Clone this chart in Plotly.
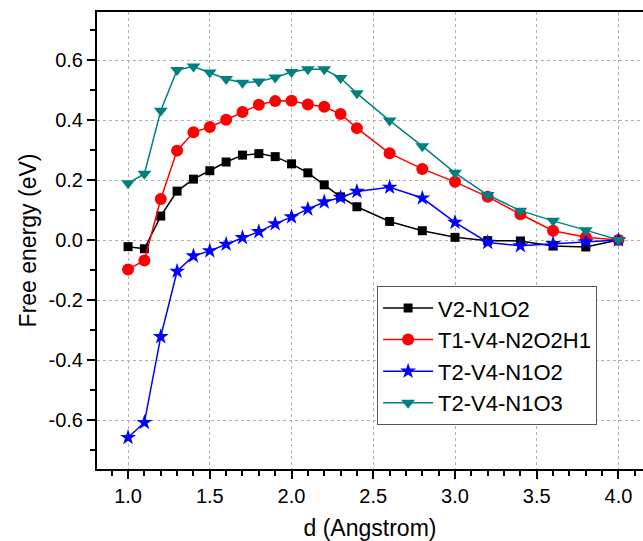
import plotly.graph_objects as go

d = [1.0, 1.1, 1.2, 1.3, 1.4, 1.5, 1.6, 1.7, 1.8, 1.9, 2.0, 2.1, 2.2, 2.3, 2.4, 2.6, 2.8, 3.0, 3.2, 3.4, 3.6, 3.8, 4.0]

v2_n1o2 = [-0.022, -0.029, 0.080, 0.163, 0.203, 0.231, 0.260, 0.283, 0.288, 0.278, 0.254, 0.224, 0.184, 0.144, 0.111,
           0.062, 0.031, 0.009, -0.002, -0.003, -0.020, -0.023, 0.0]
t1_v4_n2o2h1 = [-0.098, -0.068, 0.137, 0.298, 0.359, 0.377, 0.401, 0.427, 0.451, 0.463, 0.464, 0.452, 0.444, 0.420, 0.373,
                0.289, 0.237, 0.194, 0.144, 0.086, 0.031, 0.009, 0.0]
t2_v4_n1o2 = [-0.658, -0.608, -0.322, -0.104, -0.053, -0.036, -0.014, 0.008, 0.028, 0.054, 0.077, 0.103, 0.127, 0.142, 0.162,
              0.176, 0.140, 0.059, -0.008, -0.019, -0.012, -0.006, 0.0]
t2_v4_n1o3 = [0.189, 0.221, 0.431, 0.567, 0.578, 0.558, 0.537, 0.524, 0.528, 0.542, 0.560, 0.569, 0.569, 0.540, 0.489,
              0.398, 0.313, 0.224, 0.150, 0.098, 0.064, 0.033, 0.0]

x_tickvals = [1.0, 1.5, 2.0, 2.5, 3.0, 3.5, 4.0]
x_ticktext = ["1.0", "1.5", "2.0", "2.5", "3.0", "3.5", "4.0"]
y_tickvals = [-0.6, -0.4, -0.2, 0.0, 0.2, 0.4, 0.6]
y_ticktext = ["-0.6", "-0.4", "-0.2", "0.0", "0.2", "0.4", "0.6"]

series = [
    ("V2-N1O2", v2_n1o2, "black", "square", 9),
    ("T1-V4-N2O2H1", t1_v4_n2o2h1, "red", "circle", 12),
    ("T2-V4-N1O2", t2_v4_n1o2, "blue", "star", 12),
    ("T2-V4-N1O3", t2_v4_n1o3, "#008080", "triangle-down", 12),
]

fig = go.Figure()
for name, ys, color, sym, size in series:
    fig.add_trace(go.Scatter(
        x=d, y=ys, name=name, mode="lines+markers",
        line=dict(color=color, width=1.5),
        marker=dict(symbol=sym, size=size, color=color, line=dict(width=0)),
    ))

font = "Liberation Sans, Arial, sans-serif"
fig.update_layout(
    width=643, height=541,
    margin=dict(l=97, r=0, t=12, b=72),
    paper_bgcolor="white", plot_bgcolor="white",
    font=dict(family=font, color="black", size=20),
    showlegend=True,
    legend=dict(
        x=0.513, y=0.40, xanchor="left", yanchor="top",
        bgcolor="white", bordercolor="#555555", borderwidth=1,
        font=dict(size=22, family=font), itemwidth=50,
        tracegroupgap=0,
    ),
)
fig.update_xaxes(
    range=[0.81, 4.15], tickvals=x_tickvals, ticktext=x_ticktext,
    showline=True, linecolor="black", linewidth=2, mirror=True,
    ticks="outside", ticklen=8, tickwidth=1.5, tickcolor="black",
    minor=dict(dtick=0.1, tick0=1.0, ticks="outside", ticklen=5, tickwidth=1.5, tickcolor="black", showgrid=False),
    showgrid=True, gridcolor="#b0b0b0", griddash="dot", gridwidth=1,
    zeroline=False,
    title=dict(text="d (Angstrom)", font=dict(size=23), standoff=16),
    tickfont=dict(size=20),
)
fig.update_yaxes(
    range=[-0.763, 0.76], tickvals=y_tickvals, ticktext=y_ticktext,
    showline=True, linecolor="black", linewidth=2, mirror=False,
    ticks="outside", ticklen=8, tickwidth=1.5, tickcolor="black",
    minor=dict(dtick=0.1, tick0=0, ticks="outside", ticklen=5, tickwidth=1.5, tickcolor="black", showgrid=False),
    showgrid=True, gridcolor="#b0b0b0", griddash="dot", gridwidth=1,
    zeroline=False,
    title=dict(text="Free energy (eV)", font=dict(size=23), standoff=5),
    tickfont=dict(size=20),
)

fig.write_html("out.html", config={"displayModeBar": False},
               post_script="document.body.style.margin='0';document.body.style.overflow='hidden';")
